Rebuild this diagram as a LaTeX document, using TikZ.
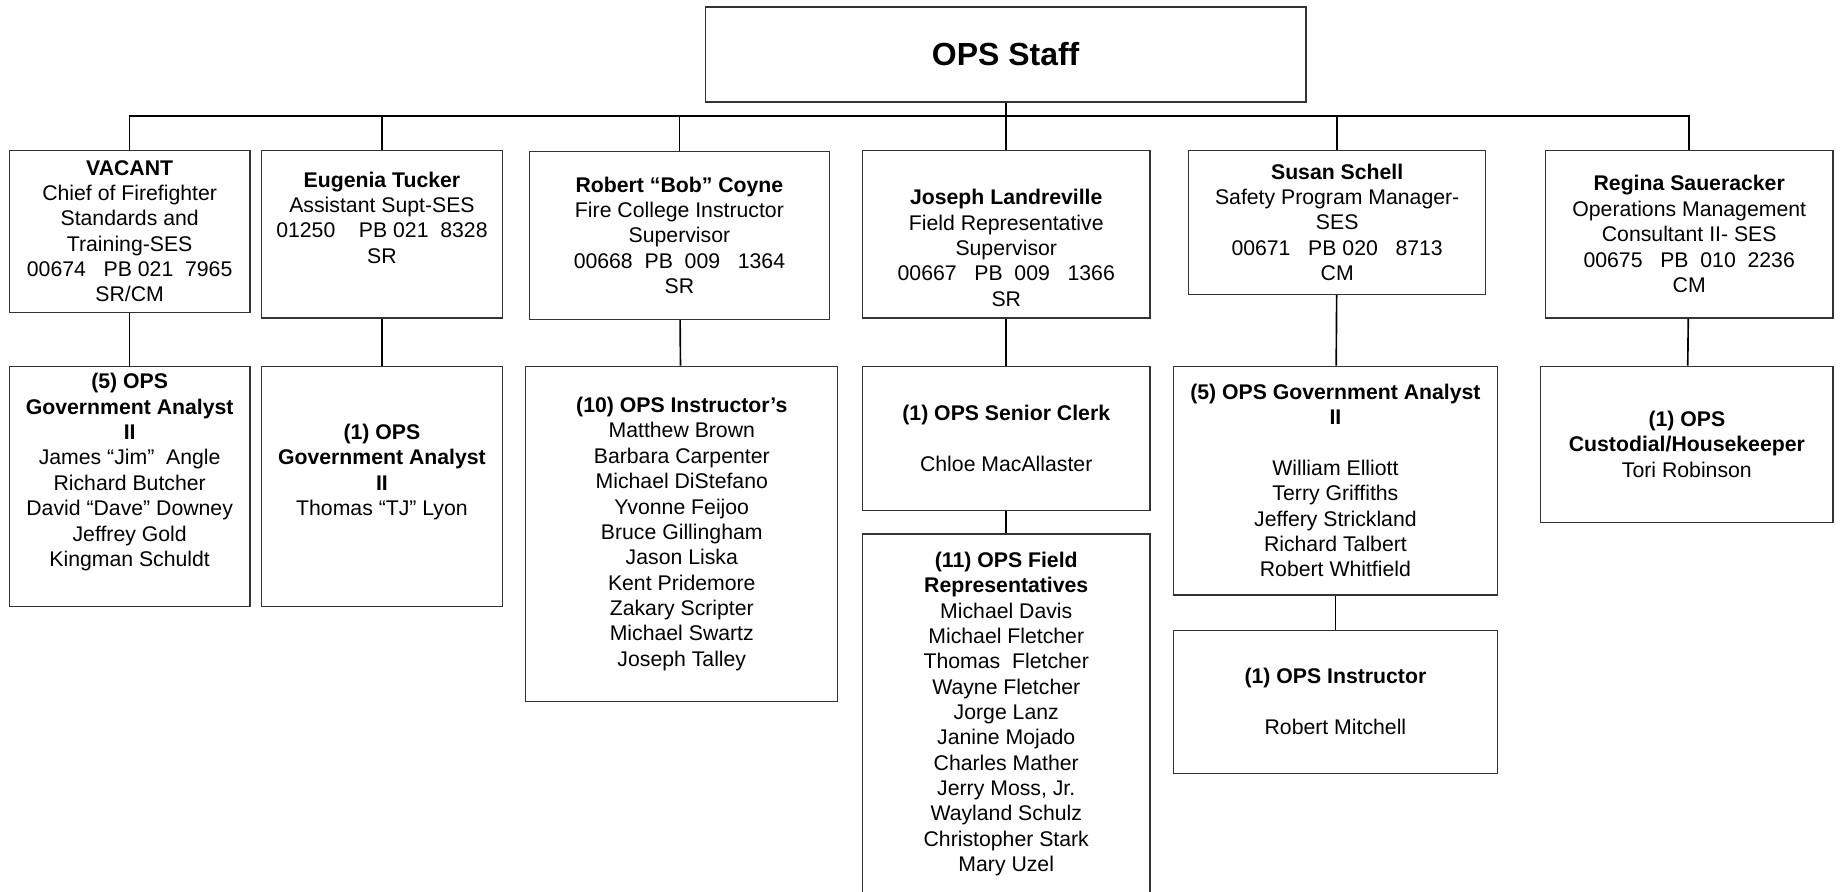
\documentclass[tikz,border=0pt]{standalone}
\usepackage{fontspec}
\setmainfont{Liberation Sans}
\usepackage{tikz}

\begin{document}
\begin{tikzpicture}[x=0.02cm, y=-0.02cm, thick, main/.style = {draw=black!80, line width=0.6pt, align=center, inner sep=2pt, font=\fontsize{10.3}{12.3}\selectfont}]
			\useasboundingbox (0,0) rectangle (1568,760);
			\node[main, minimum width=10.24cm, minimum height=1.62cm, font=\fontsize{15.5}{18}\selectfont\bfseries] (1) at (857,46.5) {OPS Staff};
			\node[main, minimum width=4.1cm, minimum height=2.76cm] (2) at (110.5,197) {\textbf{VACANT}\\Chief of Firefighter\\Standards and\\Training-SES\\00674\ \ \ PB 021\ \ 7965\\SR/CM};
			\node[main, minimum width=4.1cm, minimum height=2.86cm] (3) at (325.5,199.5) {\textbf{Eugenia Tucker}\\Assistant Supt-SES\\01250\ \ \ \ PB 021\ \ 8328\\SR\\ \strut};
			\node[main, minimum width=5.12cm, minimum height=2.86cm] (4) at (579,200.5) {\textbf{Robert “Bob” Coyne}\\Fire College Instructor\\Supervisor\\00668\ \ PB\ \ 009\ \ \ 1364\\SR};
			\node[main, minimum width=4.9cm, minimum height=2.86cm] (5) at (857.5,199.5) {\strut\\\textbf{Joseph Landreville}\\Field Representative\\Supervisor\\00667\ \ \ PB\ \ 009\ \ \ 1366\\SR};
			\node[main, minimum width=5.06cm, minimum height=2.46cm] (6) at (1139.5,189.5) {\textbf{Susan Schell}\\Safety Program Manager-\\SES\\00671\ \ \ PB 020\ \ \ 8713\\CM};
			\node[main, minimum width=4.9cm, minimum height=2.86cm] (7) at (1439.5,199.5) {\textbf{Regina Saueracker}\\Operations Management\\Consultant II- SES\\00675\ \ \ PB\ \ 010\ \ 2236\\CM};
			
			\node[main, minimum width=4.1cm, minimum height=4.1cm] (8) at (110.5,414.5) {\textbf{(5) OPS}\\\textbf{Government Analyst}\\\textbf{II}\\James “Jim”\ \ Angle\\Richard Butcher\\David “Dave” Downey\\Jeffrey Gold\\Kingman Schuldt\\ \strut};
			\node[main, minimum width=4.1cm, minimum height=4.1cm] (9) at (325.5,414.5) {\textbf{(1) OPS}\\\textbf{Government Analyst}\\\textbf{II}\\Thomas “TJ” Lyon\\ \strut};
			\node[main, minimum width=5.32cm, minimum height=5.72cm] (10) at (581,455) {\textbf{(10) OPS Instructor’s}\\Matthew Brown\\Barbara Carpenter\\Michael DiStefano\\Yvonne Feijoo\\Bruce Gillingham\\Jason Liska\\Kent Pridemore\\Zakary Scripter\\Michael Swartz\\Joseph Talley};
			\node[main, minimum width=4.9cm, minimum height=2.46cm] (11) at (857.5,373.5) {\textbf{(1) OPS Senior Clerk}\\ \strut\\Chloe MacAllaster};
			\node[main, minimum width=4.9cm, minimum height=6.14cm] (12) at (857.5,608.5) {\textbf{(11) OPS Field}\\\textbf{Representatives}\\Michael Davis\\Michael Fletcher\\Thomas\ \ Fletcher\\Wayne Fletcher\\Jorge Lanz\\Janine Mojado\\Charles Mather\\Jerry Moss, Jr.\\Wayland Schulz\\Christopher Stark\\Mary Uzel};
			\node[main, minimum width=5.52cm, minimum height=3.9cm] (13) at (1138,409.5) {\textbf{(5) OPS Government Analyst}\\\textbf{II}\\ \strut\\William Elliott\\Terry Griffiths\\Jeffery Strickland\\Richard Talbert\\Robert Whitfield};
			\node[main, minimum width=5.52cm, minimum height=2.44cm] (14) at (1138,598) {\textbf{(1) OPS Instructor}\\ \strut\\Robert Mitchell};
			\node[main, minimum width=4.98cm, minimum height=2.66cm] (15) at (1437.5,378.5) {\textbf{(1) OPS}\\\textbf{Custodial/Housekeeper}\\Tori Robinson};
			
			\coordinate (b) at (857,99);
			\draw (1.south) -- (b);
			\draw (2.north) |- (b) -| (7.north);
			\draw (3.north) -- (3.north |- b);
			\draw (4.north) -- (4.north |- b);
			\draw (5.north) -- (5.north |- b);
			\draw (6.north) -- (6.north |- b);
			\draw (2) -- (8);
			\draw (3) -- (9);
			\draw (4) -- (10);
			\draw (5) -- (11);
			\draw (11) -- (12);
			\draw (6) -- (13);
			\draw (13) -- (14);
			\draw (7) -- (15);
		\end{tikzpicture}
\end{document}
